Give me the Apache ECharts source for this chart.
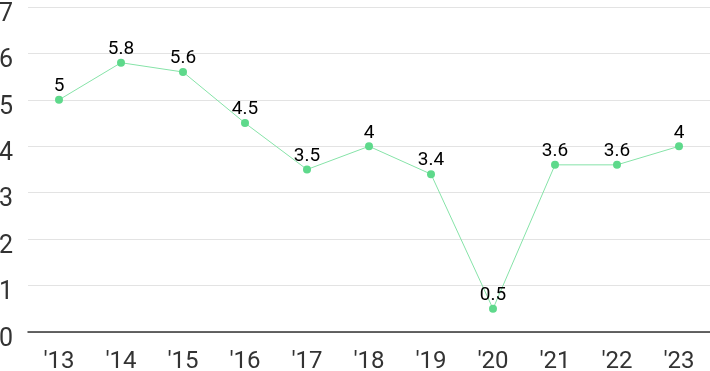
<!DOCTYPE html>
<html><head><meta charset="utf-8">
<script src="https://cdn.jsdelivr.net/npm/echarts@6/dist/echarts.min.js"></script>
<style>html,body{margin:0;padding:0;background:#fff}#c{width:710px;height:371px}</style>
</head><body><div id="c"></div>
<script>
const categories = ["'13","'14","'15","'16","'17","'18","'19","'20","'21","'22","'23"];
const values = [5, 5.8, 5.6, 4.5, 3.5, 4, 3.4, 0.5, 3.6, 3.6, 4];
const yTicks = [0,1,2,3,4,5,6,7];
const chart = echarts.init(document.getElementById('c'));
chart.setOption({
  animation: false,
  grid: {left: 28, right: 0, top: 7, bottom: 39, containLabel: false, outerBoundsMode: 'none'},
  xAxis: {
    type: 'category', data: categories, boundaryGap: true,
    axisLine: {lineStyle: {color: '#333', width: 1.5}},
    axisTick: {show: false},
    axisLabel: {color: '#333', fontSize: 24, fontFamily: 'Roboto', margin: 18}
  },
  yAxis: {
    type: 'value', min: yTicks[0], max: yTicks[yTicks.length-1], interval: 1,
    axisLine: {show: false}, axisTick: {show: false},
    splitLine: {lineStyle: {color: '#e3e3e3'}},
    axisLabel: {
      align: 'left', margin: 29, verticalAlign: 'top',
      formatter: '{a|{value}}',
      rich: {a: {color: '#333', fontSize: 25, fontFamily: 'Roboto', lineHeight: 25, padding: [-10, 0, 0, 0]}}
    }
  },
  series: [{
    type: 'line', data: values,
    symbol: 'circle', symbolSize: 8,
    lineStyle: {color: '#86e3a8', width: 1},
    itemStyle: {color: '#5ed98b'},
    label: {show: true, position: 'top', distance: 0, color: '#000', fontSize: 19, fontFamily: 'Roboto'}
  }]
});
</script></body></html>
